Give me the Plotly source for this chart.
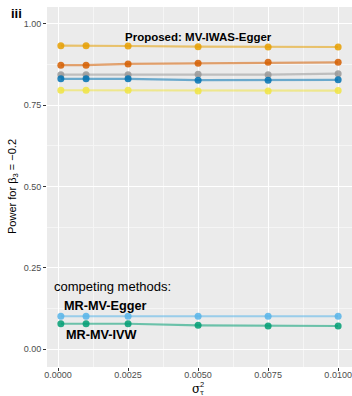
import plotly.graph_objects as go

sigma2 = [0.0001, 0.001, 0.0025, 0.005, 0.0075, 0.01]

# Series (power values)
series_names = ["MV-IWAS-Egger (orange)", "vermilion", "grey", "blue", "yellow",
                "MR-MV-Egger", "MR-MV-IVW"]
power_orange = [0.933, 0.933, 0.932, 0.930, 0.929, 0.929]
power_vermilion = [0.873, 0.873, 0.877, 0.879, 0.882, 0.882]
power_grey = [0.844, 0.844, 0.844, 0.845, 0.844, 0.847]
power_blue = [0.831, 0.831, 0.831, 0.827, 0.827, 0.828]
power_yellow = [0.796, 0.796, 0.796, 0.794, 0.794, 0.795]
power_mr_egger = [0.101, 0.101, 0.101, 0.101, 0.101, 0.101]
power_mr_ivw = [0.078, 0.078, 0.078, 0.073, 0.071, 0.071]

colors = ["#E69F00", "#D55E00", "#999999", "#0072B2", "#F0E442", "#56B4E9", "#009E73"]

x_ticks = [0.0, 0.0025, 0.005, 0.0075, 0.01]
x_tick_labels = ["0.0000", "0.0025", "0.0050", "0.0075", "0.0100"]
y_ticks = [0.0, 0.25, 0.5, 0.75, 1.0]
y_tick_labels = ["0.00", "0.25", "0.50", "0.75", "1.00"]

all_series = [power_orange, power_vermilion, power_grey, power_blue, power_yellow,
              power_mr_egger, power_mr_ivw]


def rgba(hexc, a):
    h = hexc.lstrip("#")
    r, g, b = int(h[0:2], 16), int(h[2:4], 16), int(h[4:6], 16)
    return f"rgba({r},{g},{b},{a})"


fig = go.Figure()
for name, ys, c in zip(series_names, all_series, colors):
    fig.add_trace(go.Scatter(x=sigma2, y=ys, mode="lines", name=name,
                             line=dict(color=rgba(c, 0.55), width=2.2),
                             showlegend=False, hoverinfo="skip"))
    fig.add_trace(go.Scatter(x=sigma2, y=ys, mode="markers", name=name,
                             marker=dict(color=rgba(c, 0.85), size=7),
                             showlegend=False))

font = "Liberation Sans, Arial, Helvetica, sans-serif"
L, T, R, B = 47, 7, 0, 29
W, H = 352, 396
PW, PH = W - L - R, H - T - B


def px_x(x):
    return (x - L) / PW


def px_y(y):
    return (H - B - y) / PH


fig.update_layout(
    width=W, height=H,
    margin=dict(l=L, r=R, t=T, b=B),
    paper_bgcolor="white",
    plot_bgcolor="#EBEBEB",
    font=dict(family=font, color="#4D4D4D", size=9),
    xaxis=dict(range=[-0.000395, 0.010495], tickvals=x_ticks, ticktext=x_tick_labels,
               showgrid=True, gridcolor="white", gridwidth=1.1, zeroline=False,
               ticks="outside", ticklen=3, tickcolor="#333333", tickwidth=1,
               ticklabelstandoff=-4,
               tickfont=dict(size=9, color="#4D4D4D"), showline=False,
               minor=dict(tickmode="linear", tick0=0.00125, dtick=0.0025,
                          showgrid=True, gridcolor="#F5F5F5", gridwidth=0.6, ticks="")),
    yaxis=dict(range=[-0.055, 1.052], tickvals=y_ticks, ticktext=y_tick_labels,
               showgrid=True, gridcolor="white", gridwidth=1.1, zeroline=False,
               ticks="outside", ticklen=3, tickcolor="#333333", tickwidth=1,
               tickfont=dict(size=9, color="#4D4D4D"), showline=False,
               minor=dict(tickmode="linear", tick0=0.125, dtick=0.25,
                          showgrid=True, gridcolor="#F5F5F5", gridwidth=0.6, ticks="")),
)

ann = []
ann.append(dict(text="<b>iii</b>", x=px_x(9), y=px_y(13), xref="paper", yref="paper",
                showarrow=False, font=dict(size=13, color="black", family=font),
                xanchor="left", yanchor="middle"))
ann.append(dict(text="<b>Proposed: MV-IWAS-Egger</b>", x=0.005, y=0.96, xref="x", yref="y",
                showarrow=False, font=dict(size=11.5, color="black", family=font)))
ann.append(dict(text="competing methods:", x=0.00195, y=0.192, xref="x", yref="y",
                showarrow=False, font=dict(size=13, color="black", family=font)))
ann.append(dict(text="<b>MR-MV-Egger</b>", x=0.0017, y=0.133, xref="x", yref="y",
                showarrow=False, font=dict(size=12.7, color="black", family=font)))
ann.append(dict(text="<b>MR-MV-IVW</b>", x=0.00155, y=0.043, xref="x", yref="y",
                showarrow=False, font=dict(size=12.7, color="black", family=font)))
ann.append(dict(text="Power for β<sub>3</sub> = −0.2", xref="paper", yref="paper",
                x=px_x(13), y=0.5, textangle=-90, showarrow=False,
                xanchor="center", yanchor="middle",
                font=dict(size=11, color="black", family=font)))
ann.append(dict(text="σ", xref="x", yref="paper", x=0.005, y=px_y(389),
                xshift=-2, showarrow=False, xanchor="center", yanchor="middle",
                font=dict(size=12, color="black", family="DejaVu Serif, serif")))
ann.append(dict(text="2", xref="x", yref="paper", x=0.005, y=px_y(384),
                xshift=4, showarrow=False, xanchor="center", yanchor="middle",
                font=dict(size=7.5, color="black", family=font)))
ann.append(dict(text="τ", xref="x", yref="paper", x=0.005, y=px_y(393),
                xshift=4, showarrow=False, xanchor="center", yanchor="middle",
                font=dict(size=7, color="black", family="DejaVu Serif, serif")))
fig.layout.annotations = ann

fig.write_html("out.html", config={"displayModeBar": False},
               post_script="document.body.style.margin='0';document.body.style.padding='0';")
